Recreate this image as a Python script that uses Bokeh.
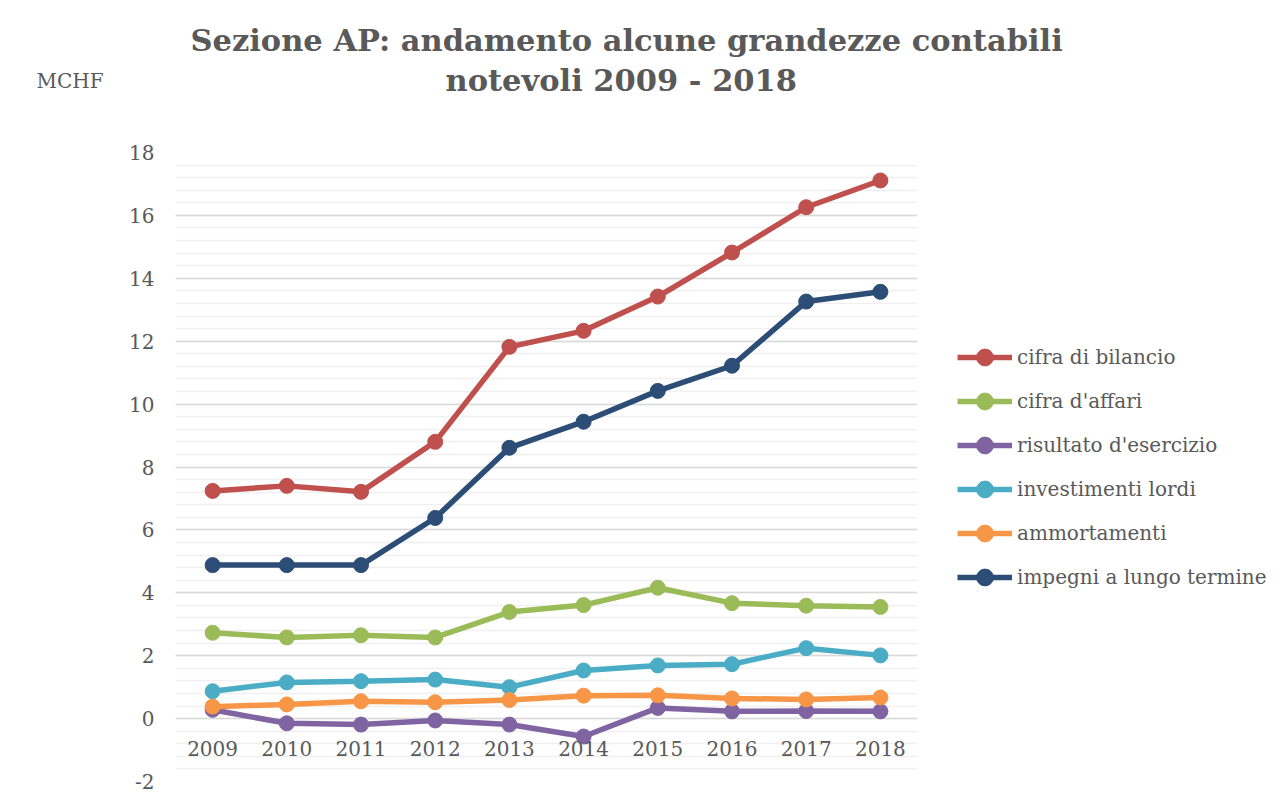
from bokeh.plotting import figure
from bokeh.models import FixedTicker, Legend, LegendItem, Title, Label, Range1d, FactorRange
from bokeh.embed import file_html
from bokeh.resources import INLINE

years = ["2009", "2010", "2011", "2012", "2013", "2014", "2015", "2016", "2017", "2018"]
cifra_di_bilancio = [7.24, 7.40, 7.21, 8.80, 11.82, 12.33, 13.42, 14.82, 16.26, 17.11]
cifra_d_affari = [2.73, 2.58, 2.65, 2.58, 3.39, 3.61, 4.16, 3.67, 3.59, 3.55]
risultato_d_esercizio = [0.28, -0.15, -0.19, -0.06, -0.19, -0.57, 0.34, 0.23, 0.24, 0.23]
investimenti_lordi = [0.87, 1.15, 1.19, 1.24, 1.00, 1.53, 1.69, 1.73, 2.24, 2.01]
ammortamenti = [0.38, 0.45, 0.55, 0.52, 0.59, 0.73, 0.74, 0.64, 0.61, 0.67]
impegni_a_lungo_termine = [4.88, 4.88, 4.88, 6.38, 8.61, 9.44, 10.42, 11.22, 13.26, 13.57]

series_names = ["cifra di bilancio", "cifra d'affari", "risultato d'esercizio",
                "investimenti lordi", "ammortamenti", "impegni a lungo termine"]
series_values = [cifra_di_bilancio, cifra_d_affari, risultato_d_esercizio,
                 investimenti_lordi, ammortamenti, impegni_a_lungo_termine]
series_colors = ["#C0504D", "#9BBB59", "#8064A2", "#4BACC6", "#F79646", "#2C4D75"]

y_major_ticks = [-2, 0, 2, 4, 6, 8, 10, 12, 14, 16, 18]
y_tick_labels = ["-2", "0", "2", "4", "6", "8", "10", "12", "14", "16", "18"]
y_minor_ticks = [round(-2 + 0.4 * i, 1) for i in range(51)]

FONT = "DejaVu Serif"
TEXT_COLOR = "#595959"

p = figure(frame_width=742, frame_height=629, x_range=FactorRange(*years, range_padding=0),
           y_range=Range1d(-2, 18), output_backend="svg", toolbar_location=None,
           min_border_left=175, min_border_right=359, min_border_top=152,
           min_border_bottom=20)
p.outline_line_color = None
p.background_fill_color = "white"
p.border_fill_color = "white"

# grid
p.xgrid.grid_line_color = None
p.yaxis.ticker = FixedTicker(ticks=y_major_ticks, minor_ticks=y_minor_ticks)
p.yaxis.major_label_overrides = {t: s for t, s in zip(y_major_ticks, y_tick_labels)}
p.ygrid.grid_line_color = "#D9D9D9"
p.ygrid.grid_line_width = 1.5
p.ygrid.minor_grid_line_color = "#F0F0F0"
p.ygrid.minor_grid_line_width = 1.5

# y axis
p.yaxis.axis_line_color = None
p.yaxis.major_tick_line_color = None
p.yaxis.minor_tick_line_color = None
p.yaxis.major_label_text_font = FONT
p.yaxis.major_label_text_font_size = "20px"
p.yaxis.major_label_text_color = TEXT_COLOR
p.yaxis.major_label_standoff = 15

# x axis at zero
p.xaxis.fixed_location = 0
p.xaxis.axis_line_color = None
p.xaxis.major_tick_line_color = None
p.xaxis.minor_tick_line_color = None
p.xaxis.major_label_text_font = FONT
p.xaxis.major_label_text_font_size = "20px"
p.xaxis.major_label_text_color = TEXT_COLOR
p.xaxis.major_label_standoff = 16

items = []
for name, vals, col in zip(series_names, series_values, series_colors):
    r1 = p.line(years, vals, line_color=col, line_width=5.5)
    r2 = p.scatter(years, vals, size=15, fill_color=col, line_color=col)
    items.append(LegendItem(label=name, renderers=[r1, r2]))

legend = Legend(items=items, location=(40, 183), margin=0, padding=0,
                border_line_color=None, background_fill_alpha=0,
                glyph_width=55, glyph_height=42, label_height=42, spacing=2,
                label_standoff=5, label_text_font=FONT, label_text_font_size="20px",
                label_text_color=TEXT_COLOR)
p.add_layout(legend, "right")

mchf = Label(x=-139, y=72, x_units="screen", y_units="screen", text="MCHF",
             text_font=FONT, text_font_size="20px", text_color=TEXT_COLOR,
             text_baseline="middle", text_align="left")
p.add_layout(mchf, "above")

spacer = Title(text=" ", align="left", text_font=FONT, text_font_size="20px",
               standoff=4)
title2 = Title(text="notevoli 2009 - 2018", align="left", offset=270,
               text_font=FONT, text_font_size="30.5px", text_font_style="bold",
               text_color=TEXT_COLOR, standoff=2)
title1 = Title(text="Sezione AP: andamento alcune grandezze contabili", align="left",
               offset=15, text_font=FONT, text_font_size="30.5px", text_font_style="bold",
               text_color=TEXT_COLOR, standoff=2)
p.add_layout(spacer, "above")
p.add_layout(title2, "above")
p.add_layout(title1, "above")

open("out.html", "w").write(file_html(p, INLINE))
